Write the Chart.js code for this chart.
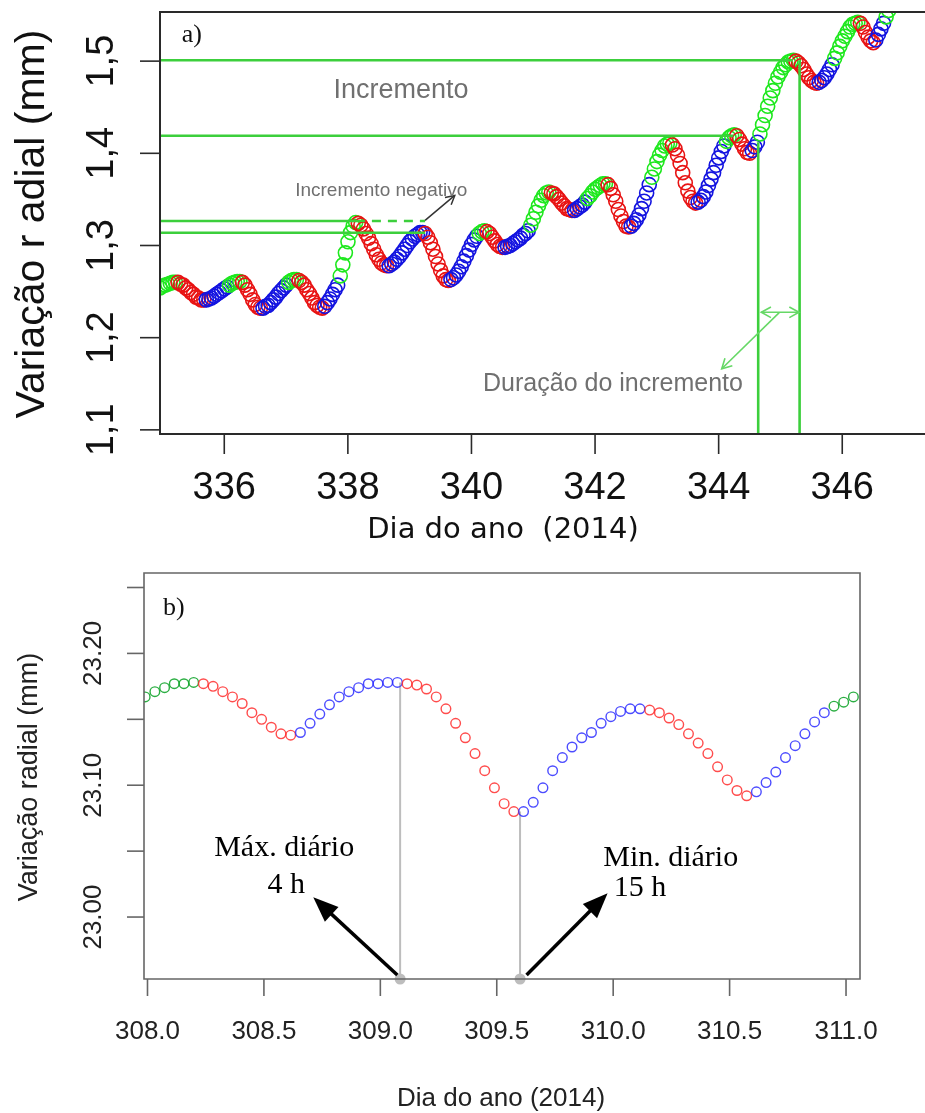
<!DOCTYPE html>
<html>
<head>
<meta charset="utf-8">
<script src="https://cdn.jsdelivr.net/npm/chart.js@4.4.0/dist/chart.umd.min.js"></script>
<style>
  html, body { margin: 0; padding: 0; background: #fff; width: 925px; height: 1113px; overflow: hidden; }
  canvas { position: absolute; left: 0; }
  #chartA { top: 0; }
  #chartB { top: 550px; }
</style>
</head>
<body>
<canvas id="chartA" width="925" height="550"></canvas>
<canvas id="chartB" width="925" height="563"></canvas>
<script>
// ---------- Painel a): registros horários, dias 335-347 ----------
const startDayA = 334.96;      // dia do primeiro registro
const radialA = [
  1.254, 1.256, 1.257, 1.258, 1.259, 1.260, 1.260,
  1.260, 1.258, 1.257, 1.254, 1.252, 1.249, 1.247, 1.244, 1.243, 1.241, 1.241,
  1.241, 1.242, 1.243, 1.245, 1.247, 1.249, 1.251, 1.253, 1.255, 1.257, 1.259, 1.260, 1.261, 1.261,
  1.260, 1.257, 1.252, 1.247, 1.241, 1.236, 1.233, 1.232,
  1.232, 1.234, 1.235, 1.238, 1.241, 1.244, 1.248, 1.251, 1.254, 1.257, 1.260, 1.262, 1.263, 1.263,
  1.262, 1.260, 1.257, 1.252, 1.248, 1.243, 1.238, 1.235, 1.233, 1.232,
  1.234, 1.238, 1.242, 1.247, 1.252, 1.257, 1.267, 1.279, 1.292, 1.304, 1.314, 1.321, 1.325,
  1.324, 1.322, 1.318, 1.313, 1.308, 1.302, 1.296, 1.290, 1.285, 1.281, 1.279, 1.278,
  1.278, 1.280, 1.282, 1.285, 1.288, 1.292, 1.296, 1.300, 1.304, 1.307, 1.310, 1.312, 1.314, 1.314,
  1.313, 1.309, 1.303, 1.296, 1.288, 1.280, 1.273, 1.267, 1.263, 1.262,
  1.263, 1.265, 1.268, 1.272, 1.277, 1.283, 1.289, 1.295, 1.301, 1.306, 1.310, 1.313, 1.315, 1.316,
  1.315, 1.313, 1.309, 1.305, 1.301, 1.299, 1.298,
  1.298, 1.299, 1.300, 1.302, 1.304, 1.306, 1.308, 1.311, 1.313, 1.316,
  1.322, 1.329, 1.336, 1.343, 1.349, 1.354, 1.357, 1.358,
  1.357, 1.356, 1.353, 1.350, 1.346, 1.343, 1.340, 1.339, 1.338,
  1.338, 1.340, 1.342, 1.344, 1.347, 1.351, 1.354, 1.358, 1.361, 1.363, 1.365, 1.367, 1.367,
  1.366, 1.362, 1.355, 1.348, 1.339, 1.332, 1.326, 1.321, 1.320,
  1.321, 1.324, 1.328, 1.333, 1.340, 1.348, 1.357, 1.366, 1.374, 1.383, 1.391, 1.398, 1.403, 1.408, 1.410, 1.411,
  1.409, 1.405, 1.398, 1.389, 1.379, 1.368, 1.359, 1.352, 1.348, 1.346,
  1.347, 1.349, 1.353, 1.358, 1.365, 1.372, 1.379, 1.387, 1.395, 1.402, 1.408, 1.413, 1.417, 1.419, 1.420,
  1.419, 1.415, 1.410, 1.405, 1.401, 1.400,
  1.403, 1.407, 1.412, 1.421, 1.431, 1.441, 1.451, 1.460, 1.468, 1.476, 1.483, 1.488, 1.493, 1.496, 1.499, 1.500, 1.501,
  1.500, 1.498, 1.495, 1.491, 1.486, 1.482, 1.479, 1.477, 1.476,
  1.477, 1.479, 1.482, 1.486, 1.491, 1.496, 1.503, 1.509, 1.516, 1.522, 1.527, 1.532, 1.537, 1.540, 1.541, 1.542,
  1.541, 1.537, 1.531, 1.526, 1.522, 1.520,
  1.523, 1.529, 1.535, 1.541, 1.548, 1.555
];
// fases: g = incremento, r = contração, b = recuperação (nº de registros)
const phaseRunsA = [
  ['g', 7], ['r', 11], ['b', 9], ['g', 5], ['r', 8], ['b', 10], ['g', 4], ['r', 10],
  ['b', 6], ['g', 7], ['r', 12], ['b', 14], ['r', 10], ['b', 11], ['g', 3], ['r', 7],
  ['b', 10], ['g', 8], ['r', 9], ['b', 5], ['g', 8], ['r', 9], ['b', 8], ['g', 8],
  ['r', 10], ['b', 11], ['g', 4], ['r', 6], ['b', 3], ['g', 14], ['r', 9], ['b', 6],
  ['g', 10], ['r', 6], ['b', 4], ['g', 2]
];
const xTicksA = [336, 338, 340, 342, 344, 346];
const xLabelsA = ['336', '338', '340', '342', '344', '346'];
const yTicksA = [1.1, 1.2, 1.3, 1.4, 1.5];
const yLabelsA = ['1,1', '1,2', '1,3', '1,4', '1,5'];

// linhas de incremento (nível e dia onde termina)
const incLevelA = [1.501, 1.419, 1.3265, 1.3138];
const incUntilA = [345.20, 344.24, 338.13, 339.25];
const negDashA = [338.13, 339.25];        // tracejado em 1.3265
const durDaysA = [344.64, 345.31];        // verticais da duração
const durFromA = [1.412, 1.501];

// ---------- Painel b): registros horários, dias 308-311 ----------
const startDayB = 307.99;
const radialB = [
  23.167, 23.171, 23.174, 23.177, 23.177, 23.178,
  23.177, 23.175, 23.171, 23.167, 23.162, 23.155, 23.150, 23.144, 23.139, 23.138,
  23.140, 23.147, 23.154, 23.161, 23.167, 23.171, 23.174, 23.177, 23.177, 23.178, 23.178,
  23.177, 23.176, 23.173, 23.167, 23.158, 23.147, 23.136, 23.124, 23.111, 23.098, 23.086, 23.080,
  23.080, 23.087, 23.098, 23.111, 23.121, 23.129, 23.136, 23.140, 23.147, 23.152, 23.156, 23.158, 23.158,
  23.157, 23.155, 23.151, 23.146, 23.139, 23.132, 23.124, 23.114, 23.104, 23.096, 23.092,
  23.095, 23.102, 23.110, 23.121, 23.130, 23.139, 23.148, 23.155,
  23.160, 23.163, 23.167
];
const phaseRunsB = [['g', 6], ['r', 10], ['b', 11], ['r', 12], ['b', 13], ['r', 11], ['b', 8], ['g', 3]];
const xTicksB = [308.0, 308.5, 309.0, 309.5, 310.0, 310.5, 311.0];
const xLabelsB = ['308.0', '308.5', '309.0', '309.5', '310.0', '310.5', '311.0'];
const yTicksB = [23.00, 23.05, 23.10, 23.15, 23.20, 23.25];
const yLabelsB = ['23.00', '', '23.10', '', '23.20', ''];
const extremeDaysB = [309.085, 309.60];   // máx. 4 h, mín. 15 h
const extremeValsB = [23.178, 23.080];

// ---------- helpers ----------
function expandRuns(runs) {
  const out = [];
  runs.forEach(([c, n]) => { for (let k = 0; k < n; k++) out.push(c); });
  return out;
}
function hourly(start, vals) {
  return vals.map((v, i) => ({ x: start + i / 24, y: v }));
}
function seg(x0, y0, x1, y1) { return [{ x: x0, y: y0 }, { x: x1, y: y1 }]; }

function arrow(ctx, x0, y0, x1, y1, st) {
  ctx.save();
  ctx.strokeStyle = st.color; ctx.fillStyle = st.color; ctx.lineWidth = st.width;
  const a = Math.atan2(y1 - y0, x1 - x0);
  let ex = x1, ey = y1;
  if (st.filled) { ex = x1 - Math.cos(a) * st.head * 0.7; ey = y1 - Math.sin(a) * st.head * 0.7; }
  ctx.beginPath(); ctx.moveTo(x0, y0); ctx.lineTo(ex, ey); ctx.stroke();
  const heads = st.both ? [[x1, y1, a], [x0, y0, a + Math.PI]] : [[x1, y1, a]];
  heads.forEach(([hx, hy, ang]) => {
    const p1x = hx - st.head * Math.cos(ang - st.spread), p1y = hy - st.head * Math.sin(ang - st.spread);
    const p2x = hx - st.head * Math.cos(ang + st.spread), p2y = hy - st.head * Math.sin(ang + st.spread);
    ctx.beginPath();
    if (st.filled) { ctx.moveTo(hx, hy); ctx.lineTo(p1x, p1y); ctx.lineTo(p2x, p2y); ctx.closePath(); ctx.fill(); }
    else { ctx.moveTo(p1x, p1y); ctx.lineTo(hx, hy); ctx.lineTo(p2x, p2y); ctx.stroke(); }
  });
  ctx.restore();
}

function drawAxes(chart, o) {
  const { ctx, chartArea: a } = chart;
  const sx = chart.scales.x, sy = chart.scales.y;
  ctx.save();
  ctx.strokeStyle = o.axisColor;
  ctx.lineWidth = o.frameWidth;
  ctx.beginPath();
  if (o.openRight) {
    ctx.moveTo(chart.width, a.top); ctx.lineTo(a.left, a.top);
    ctx.lineTo(a.left, a.bottom); ctx.lineTo(chart.width, a.bottom);
  } else {
    ctx.rect(a.left, a.top, a.right - a.left, a.bottom - a.top);
  }
  ctx.stroke();

  ctx.lineWidth = o.tickWidth;
  ctx.fillStyle = o.labelColor;
  ctx.font = o.tickFont;
  ctx.textAlign = 'center';
  ctx.textBaseline = 'middle';
  o.xTicks.forEach((v, i) => {
    const px = sx.getPixelForValue(v);
    ctx.beginPath(); ctx.moveTo(px, a.bottom); ctx.lineTo(px, a.bottom + o.tickLen); ctx.stroke();
    ctx.fillText(o.xLabels[i], px, a.bottom + o.xLabelGap);
  });
  o.yTicks.forEach((v, i) => {
    const py = sy.getPixelForValue(v);
    ctx.beginPath(); ctx.moveTo(a.left, py); ctx.lineTo(a.left - o.tickLen, py); ctx.stroke();
    if (o.yLabels[i]) {
      ctx.save(); ctx.translate(a.left - o.yLabelGap, py); ctx.rotate(-Math.PI / 2);
      ctx.fillText(o.yLabels[i], 0, 0); ctx.restore();
    }
  });
  ctx.font = o.xTitleFont;
  ctx.fillText(o.xTitle, o.xTitlePos[0], o.xTitlePos[1]);
  ctx.font = o.yTitleFont;
  ctx.save(); ctx.translate(o.yTitlePos[0], o.yTitlePos[1]); ctx.rotate(-Math.PI / 2);
  ctx.fillText(o.yTitle, 0, 0); ctx.restore();
  ctx.restore();
}

function textAt(ctx, chart, str, x, y, font, color, align) {
  ctx.save();
  ctx.font = font; ctx.fillStyle = color;
  ctx.textAlign = align || 'center'; ctx.textBaseline = 'middle';
  ctx.fillText(str, chart.scales.x.getPixelForValue(x), chart.scales.y.getPixelForValue(y));
  ctx.restore();
}

// ---------- gráfico a) ----------
const colA = { g: '#1ee81e', r: '#e81414', b: '#1414e0' };
const lineGreen = '#3ccf3c';
const phasesA = expandRuns(phaseRunsA);

const lineSets = incLevelA.map((lv, i) => ({
  data: seg(startDayA, lv, incUntilA[i], lv),
  showLine: true, borderColor: lineGreen, borderWidth: 2.6, pointRadius: 0, order: 1
}));
lineSets.push({
  data: seg(negDashA[0], incLevelA[2], negDashA[1], incLevelA[2]),
  showLine: true, borderColor: lineGreen, borderWidth: 2.6, borderDash: [9, 7], pointRadius: 0, order: 1
});
durDaysA.forEach((d, i) => lineSets.push({
  data: seg(d, durFromA[i], d, 1.0955),
  showLine: true, borderColor: lineGreen, borderWidth: 2.6, pointRadius: 0, order: 1
}));

const annotA = {
  id: 'annotA',
  afterDraw(chart) {
    const { ctx } = chart;
    const X = v => chart.scales.x.getPixelForValue(v);
    const Y = v => chart.scales.y.getPixelForValue(v);
    const lightArrow = { color: '#66d866', width: 1.6, head: 11, spread: 0.5 };
    arrow(ctx, X(344.69), Y(1.2275), X(345.30), Y(1.2275), Object.assign({ both: true }, lightArrow));
    arrow(ctx, X(344.98), Y(1.2272), X(344.05), Y(1.1663), lightArrow);
    arrow(ctx, X(339.25), Y(1.3272), X(339.73), Y(1.3543), { color: '#333', width: 1.5, head: 10, spread: 0.5 });
    textAt(ctx, chart, 'Incremento', 338.86, 1.4685, '27px "Liberation Sans"', '#707070');
    textAt(ctx, chart, 'Incremento negativo', 338.54, 1.3598, '19px "Liberation Sans"', '#707070');
    textAt(ctx, chart, 'Duração do incremento', 342.29, 1.150, '25px "Liberation Sans"', '#707070');
    textAt(ctx, chart, 'a)', 335.31, 1.5283, '26px "Liberation Serif"', '#111', 'left');
    drawAxes(chart, {
      axisColor: '#2a2a2a', frameWidth: 2, tickWidth: 1.6, tickLen: 20, openRight: true,
      labelColor: '#111', tickFont: '38px "Liberation Sans"',
      xTicks: xTicksA, xLabels: xLabelsA, yTicks: yTicksA, yLabels: yLabelsA,
      xLabelGap: 55, yLabelGap: 57,
      xTitle: 'Dia do ano  (2014)', xTitleFont: '29px "DejaVu Sans"', xTitlePos: [503, 530],
      yTitle: 'Variação r adial (mm)', yTitleFont: '41px "Liberation Sans"', yTitlePos: [33, 224]
    });
  }
};

new Chart(document.getElementById('chartA'), {
  type: 'scatter',
  data: {
    datasets: [
      ...lineSets,
      {
        data: hourly(startDayA, radialA),
        pointStyle: 'circle', pointRadius: 7, pointBorderWidth: 1.6,
        pointBackgroundColor: 'rgba(0,0,0,0)',
        pointBorderColor: phasesA.map(c => colA[c]),
        clip: 0, order: 2
      }
    ]
  },
  options: {
    responsive: false, animation: false,
    layout: { padding: { left: 160, top: 12, right: 0, bottom: 116 } },
    plugins: { legend: { display: false }, tooltip: { enabled: false } },
    scales: {
      x: { type: 'linear', display: false, min: 334.96, max: 347.2 },
      y: { type: 'linear', display: false, min: 1.0955, max: 1.5533 }
    }
  },
  plugins: [annotA]
});

// ---------- gráfico b) ----------
const colB = { g: 'rgba(20,165,45,0.9)', r: 'rgba(255,45,45,0.85)', b: 'rgba(45,45,255,0.85)' };
const phasesB = expandRuns(phaseRunsB);
const yMinB = 22.953;

const annotB = {
  id: 'annotB',
  afterDraw(chart) {
    const { ctx } = chart;
    const X = v => chart.scales.x.getPixelForValue(v);
    const Y = v => chart.scales.y.getPixelForValue(v);
    const heavy = { color: '#000', width: 3.5, head: 27, spread: 0.38, filled: true };
    arrow(ctx, X(309.073), Y(22.956), X(308.712), Y(23.015), heavy);
    arrow(ctx, X(309.628), Y(22.956), X(309.976), Y(23.018), heavy);
    textAt(ctx, chart, 'Máx. diário', 308.587, 23.0523, '30px "Liberation Serif"', '#000');
    textAt(ctx, chart, '4 h', 308.596, 23.0242, '30px "Liberation Serif"', '#000');
    textAt(ctx, chart, 'Min. diário', 310.247, 23.0447, '30px "Liberation Serif"', '#000');
    textAt(ctx, chart, '15 h', 310.002, 23.022, '30px "Liberation Serif"', '#000', 'left');
    textAt(ctx, chart, 'b)', 308.067, 23.234, '26px "Liberation Serif"', '#111', 'left');
    drawAxes(chart, {
      axisColor: '#666', frameWidth: 1.6, tickWidth: 1.6, tickLen: 17, openRight: false,
      labelColor: '#222', tickFont: '26px "Liberation Sans"',
      xTicks: xTicksB, xLabels: xLabelsB, yTicks: yTicksB, yLabels: yLabelsB,
      xLabelGap: 53, yLabelGap: 50,
      xTitle: 'Dia do ano (2014)', xTitleFont: '26px "Liberation Sans"', xTitlePos: [501, 549],
      yTitle: 'Variação radial (mm)', yTitleFont: '27px "Liberation Sans"', yTitlePos: [30, 227]
    });
  }
};

new Chart(document.getElementById('chartB'), {
  type: 'scatter',
  data: {
    datasets: [
      {
        data: hourly(startDayB, radialB),
        pointStyle: 'circle', pointRadius: 4.8, pointBorderWidth: 1.4,
        pointBackgroundColor: 'rgba(0,0,0,0)',
        pointBorderColor: phasesB.map(c => colB[c]),
        clip: 0, order: 1
      },
      ...extremeDaysB.map((d, i) => ({
        data: seg(d, extremeValsB[i], d, yMinB),
        showLine: true, borderColor: '#bdbdbd', borderWidth: 2, pointRadius: 0, order: 2
      })),
      {
        data: extremeDaysB.map(d => ({ x: d, y: yMinB })),
        pointRadius: 5.5, pointBackgroundColor: '#bdbdbd', pointBorderWidth: 0,
        clip: false, order: 0
      }
    ]
  },
  options: {
    responsive: false, animation: false,
    layout: { padding: { left: 144, top: 23, right: 65, bottom: 134 } },
    plugins: { legend: { display: false }, tooltip: { enabled: false } },
    scales: {
      x: { type: 'linear', display: false, min: 307.985, max: 311.06 },
      y: { type: 'linear', display: false, min: yMinB, max: 23.261 }
    }
  },
  plugins: [annotB]
});
</script>
</body>
</html>
